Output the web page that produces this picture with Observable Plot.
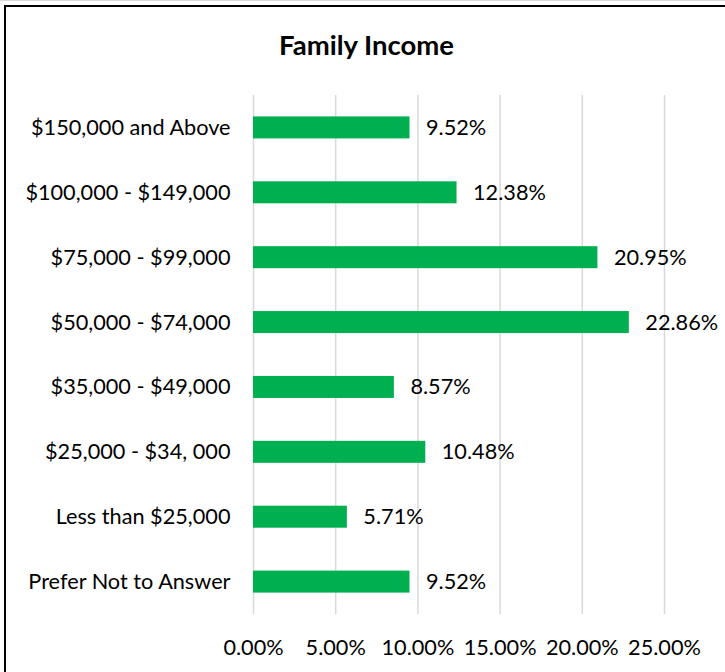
<!DOCTYPE html>
<html>
<head>
<meta charset="utf-8">
<script src="https://cdn.jsdelivr.net/npm/d3@7"></script>
<script src="https://cdn.jsdelivr.net/npm/@observablehq/plot@0.6"></script>
<style>
  html, body { margin: 0; padding: 0; background: #fff; }
  #wrap { position: relative; width: 725px; height: 672px; overflow: hidden; border-top: 1px solid #d9d9d9; box-sizing: border-box; }
  #box { position: absolute; left: 4px; top: 4px; width: 800px; height: 800px; border: 2px solid #000; box-sizing: border-box; }
  #title { position: absolute; left: 0; width: 733px; top: 27px; text-align: center; font-family: Lato, sans-serif; font-weight: bold; font-size: 27.5px; color: #000; }
  #chart { position: absolute; left: 0; top: -1px; }
</style>
</head>
<body>
<div id="wrap">
  <div id="box"></div>
  <div id="chart"></div>
  <div id="title">Family Income</div>
</div>
<script>
const categories = [
  "$150,000 and Above",
  "$100,000 - $149,000",
  "$75,000 - $99,000",
  "$50,000 - $74,000",
  "$35,000 - $49,000",
  "$25,000 - $34, 000",
  "Less than $25,000",
  "Prefer Not to Answer"
];
const values = [9.52, 12.38, 20.95, 22.86, 8.57, 10.48, 5.71, 9.52];
const xTicks = [0, 5, 10, 15, 20, 25];

const data = categories.map((c, i) => ({category: c, value: values[i]}));
const fontFamily = "Lato, sans-serif";
const fs = 21.7;

const chart = Plot.plot({
  width: 725,
  height: 672,
  marginTop: 95,
  marginBottom: 58,
  marginLeft: 253,
  marginRight: 61,
  style: {fontFamily, fontSize: fs + "px", color: "#000", background: "transparent"},
  x: {domain: [0, 25]},
  y: {domain: categories, paddingInner: 0.661, paddingOuter: 0.33, align: 0.5, round: false},
  marks: [
    Plot.gridX(xTicks, {stroke: "#d9d9d9", strokeWidth: 1.5, strokeOpacity: 1}),
    Plot.barX(data, {x: "value", y: "category", fill: "#00B050"}),
    Plot.text(data, {x: "value", y: "category", text: d => d.value.toFixed(2) + "%", textAnchor: "start", dx: 16, fontSize: fs, fill: "#000"}),
    Plot.axisX(xTicks, {tickSize: 0, tickPadding: 25, tickFormat: d => d.toFixed(2) + "%", fontSize: fs, fill: "#000", label: null}),
    Plot.axisY({tickSize: 0, tickPadding: 23, fontSize: fs, fill: "#000", label: null})
  ]
});
document.getElementById("chart").appendChild(chart);
</script>
</body>
</html>
